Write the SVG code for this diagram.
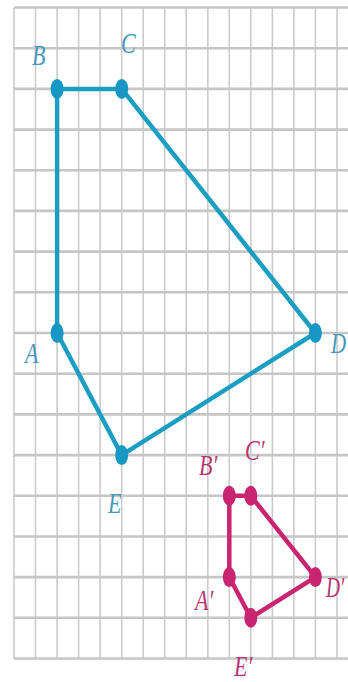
<svg xmlns="http://www.w3.org/2000/svg" width="348" height="682" viewBox="0 0 348 682">
<style>
.v{stroke:#cbcbcb;stroke-width:1.6}
.h{stroke:#c6c6c6;stroke-width:2.6}
.blue{fill:none;stroke:#1c9dc2;stroke-width:4.5;stroke-linejoin:round}
.mag{fill:none;stroke:#c92470;stroke-width:4.5;stroke-linejoin:round}
.bd{fill:#1798c4}
.md{fill:#c92470}
.lb{font-family:"Liberation Serif",serif;font-style:italic;font-size:22px;fill:#4597bb}
.lm{font-family:"Liberation Serif",serif;font-style:italic;font-size:22px;fill:#b73470}
</style>
<rect width="348" height="682" fill="#ffffff"/>
<g id="grid">
<line class="v" x1="14" y1="7.5" x2="14" y2="658.7"/>
<line class="v" x1="35.5" y1="7.5" x2="35.5" y2="658.7"/>
<line class="v" x1="57.1" y1="7.5" x2="57.1" y2="658.7"/>
<line class="v" x1="78.6" y1="7.5" x2="78.6" y2="658.7"/>
<line class="v" x1="100.1" y1="7.5" x2="100.1" y2="658.7"/>
<line class="v" x1="121.7" y1="7.5" x2="121.7" y2="658.7"/>
<line class="v" x1="143.2" y1="7.5" x2="143.2" y2="658.7"/>
<line class="v" x1="164.7" y1="7.5" x2="164.7" y2="658.7"/>
<line class="v" x1="186.2" y1="7.5" x2="186.2" y2="658.7"/>
<line class="v" x1="207.8" y1="7.5" x2="207.8" y2="658.7"/>
<line class="v" x1="229.3" y1="7.5" x2="229.3" y2="658.7"/>
<line class="v" x1="250.8" y1="7.5" x2="250.8" y2="658.7"/>
<line class="v" x1="272.4" y1="7.5" x2="272.4" y2="658.7"/>
<line class="v" x1="293.9" y1="7.5" x2="293.9" y2="658.7"/>
<line class="v" x1="315.4" y1="7.5" x2="315.4" y2="658.7"/>
<line class="v" x1="337" y1="7.5" x2="337" y2="658.7"/>
<line class="h" x1="14" y1="7.5" x2="348" y2="7.5"/>
<line class="h" x1="14" y1="48.2" x2="348" y2="48.2"/>
<line class="h" x1="14" y1="88.9" x2="348" y2="88.9"/>
<line class="h" x1="14" y1="129.6" x2="348" y2="129.6"/>
<line class="h" x1="14" y1="170.3" x2="348" y2="170.3"/>
<line class="h" x1="14" y1="210.9" x2="348" y2="210.9"/>
<line class="h" x1="14" y1="251.6" x2="348" y2="251.6"/>
<line class="h" x1="14" y1="292.3" x2="348" y2="292.3"/>
<line class="h" x1="14" y1="333" x2="348" y2="333"/>
<line class="h" x1="14" y1="373.7" x2="348" y2="373.7"/>
<line class="h" x1="14" y1="414.4" x2="348" y2="414.4"/>
<line class="h" x1="14" y1="455.1" x2="348" y2="455.1"/>
<line class="h" x1="14" y1="495.8" x2="348" y2="495.8"/>
<line class="h" x1="14" y1="536.5" x2="348" y2="536.5"/>
<line class="h" x1="14" y1="577.1" x2="348" y2="577.1"/>
<line class="h" x1="14" y1="617.8" x2="348" y2="617.8"/>
<line class="h" x1="14" y1="658.5" x2="348" y2="658.5"/>
</g>
<g id="connectors">
<polygon class="blue" points="57.1,88.9 121.7,88.9 315.4,333 121.7,455.1 57.1,333"/>
<polygon class="mag" points="229.3,495.8 250.8,495.8 315.4,577.1 250.8,617.8 229.3,577.1"/>
</g>
<g id="B"><ellipse class="bd" cx="57.1" cy="88.9" rx="6.5" ry="10"/><text class="lb" transform="translate(32,65) scale(1,1.35)">B</text></g>
<g id="C"><ellipse class="bd" cx="121.7" cy="88.9" rx="6.5" ry="10"/><text class="lb" transform="translate(121,53) scale(1,1.35)">C</text></g>
<g id="D"><ellipse class="bd" cx="315.4" cy="333" rx="6.5" ry="10"/><text class="lb" transform="translate(331,353) scale(0.95,1.35)">D</text></g>
<g id="A"><ellipse class="bd" cx="57.1" cy="333" rx="6.5" ry="10"/><text class="lb" transform="translate(25,363) scale(1,1.35)">A</text></g>
<g id="E"><ellipse class="bd" cx="121.7" cy="455.1" rx="6.5" ry="10"/><text class="lb" transform="translate(108,513) scale(1,1.35)">E</text></g>
<g id="B2"><ellipse class="md" cx="229.3" cy="495.8" rx="6.5" ry="10"/><text class="lm" transform="translate(199,475) scale(1,1.35)">B′</text></g>
<g id="C2"><ellipse class="md" cx="250.8" cy="495.8" rx="6.5" ry="10"/><text class="lm" transform="translate(245,460) scale(1,1.35)">C′</text></g>
<g id="D2"><ellipse class="md" cx="315.4" cy="577.1" rx="6.5" ry="10"/><text class="lm" transform="translate(326,597) scale(0.88,1.35)">D′</text></g>
<g id="A2"><ellipse class="md" cx="229.3" cy="577.1" rx="6.5" ry="10"/><text class="lm" transform="translate(195,610) scale(1,1.35)">A′</text></g>
<g id="E2"><ellipse class="md" cx="250.8" cy="617.8" rx="6.5" ry="10"/><text class="lm" transform="translate(234,676) scale(1,1.3)">E′</text></g>
</svg>
